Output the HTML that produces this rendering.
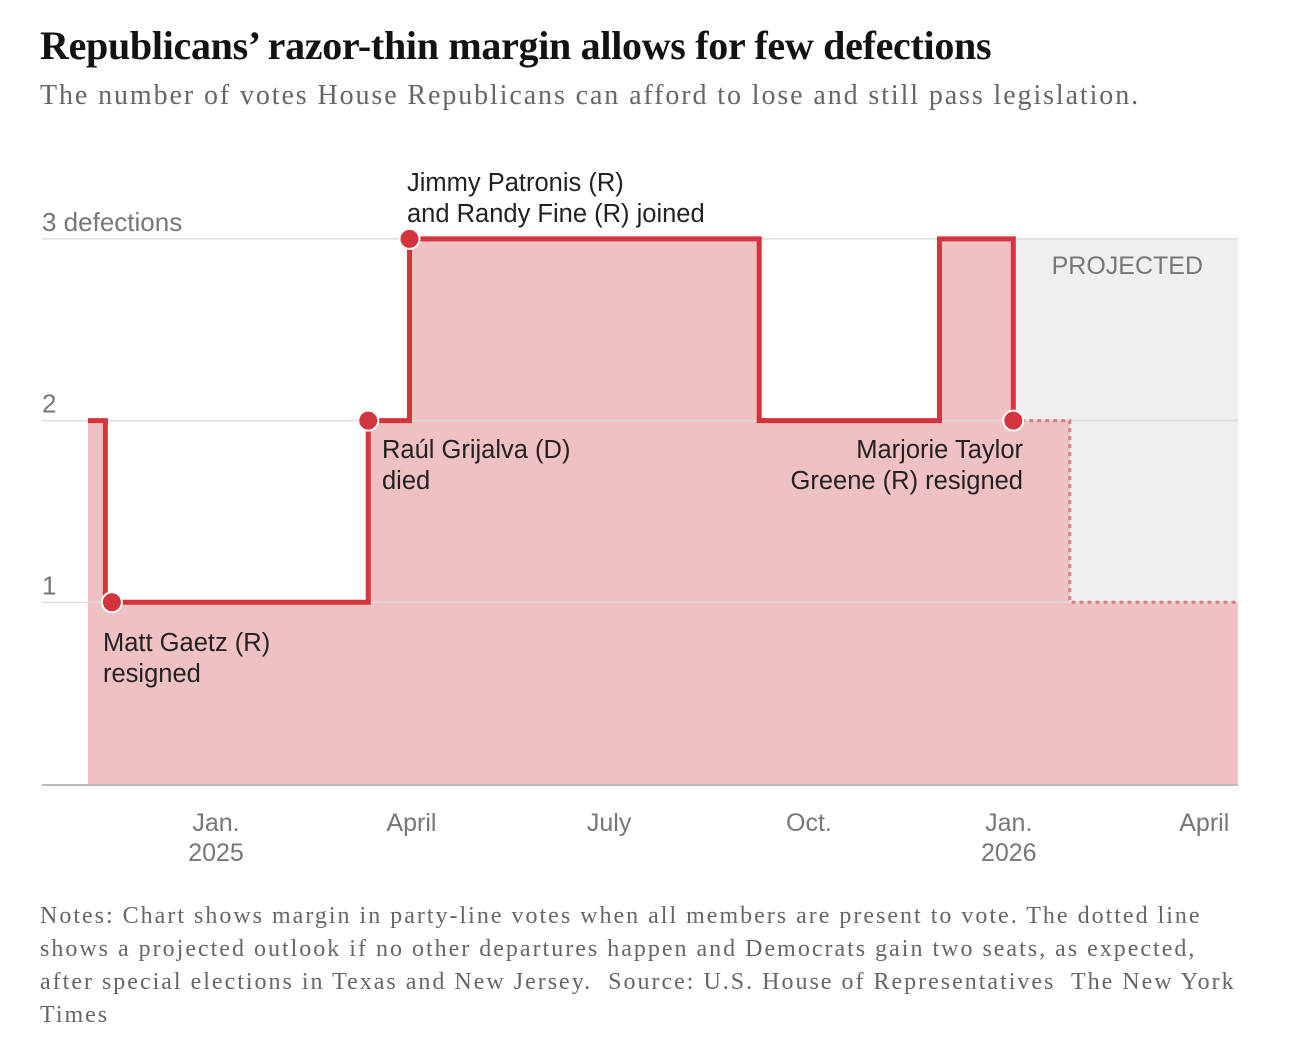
<!DOCTYPE html>
<html><head><meta charset="utf-8"><style>
body{margin:0;background:#fff;width:1316px;height:1058px;overflow:hidden;font-family:"Liberation Sans",sans-serif}
#title{position:absolute;left:40px;top:22px;font-family:"Liberation Serif",serif;font-weight:bold;font-size:40px;color:#121212;letter-spacing:-0.3px;white-space:nowrap}
#sub{position:absolute;left:40px;top:80px;font-family:"Liberation Serif",serif;font-size:28px;letter-spacing:1.9px;color:#666;white-space:nowrap}
#notes{position:absolute;left:40px;top:900px;font-family:"Liberation Serif",serif;font-size:24px;letter-spacing:2px;line-height:33px;color:#666;white-space:nowrap}
svg{position:absolute;left:0;top:0}
</style></head><body>
<div id="title">Republicans’ razor-thin margin allows for few defections</div>
<div id="sub">The number of votes House Republicans can afford to lose and still pass legislation.</div>
<svg id="chart" width="1316" height="900"></svg>
<div id="notes">Notes: Chart shows margin in party-line votes when all members are present to vote. The dotted line<br>shows a projected outlook if no other departures happen and Democrats gain two seats, as expected,<br>after special elections in Texas and New Jersey.&nbsp; Source: U.S. House of Representatives&nbsp; The New York<br>Times</div>
<script>
const stepDates=["2024-11-04","2024-11-12","2025-03-13","2025-04-01","2025-09-09","2025-12-01","2026-01-04"];
const stepValues=[2,1,2,3,2,3,2];
const projDates=["2026-01-04","2026-01-30","2026-04-20"];
const projValues=[2,1,1];
const dotDates=["2024-11-15","2025-03-13","2025-04-01","2026-01-04"];
const dotValues=[1,2,3,2];
const yTicks=[1,2,3];
const yTickLabels=["1","2","3 defections"];
const xTickDates=["2025-01-01","2025-04-01","2025-07-01","2025-10-01","2026-01-01","2026-04-01"];
const xTickLabels=[["Jan.","2025"],["April",""],["July",""],["Oct.",""],["Jan.","2026"],["April",""]];
const NS="http://www.w3.org/2000/svg";
const svg=document.getElementById('chart');
const d0=Date.parse("2025-01-01");
function x(d){return 214+(Date.parse(d)-d0)/864e5*2.172;}
function y(v){return 784-v*181.7;}
function el(t,a,p){const e=document.createElementNS(NS,t);for(const k in a)e.setAttribute(k,a[k]);(p||svg).appendChild(e);return e;}
const xEnd=1238;
const pb=el('rect',{x:x(projDates[0]),y:y(3),width:xEnd-x(projDates[0]),height:y(0)-y(3),fill:'#efefef'});


let pts=[];
const allD=stepDates.concat(projDates.slice(1)),allV=stepValues.concat(projValues.slice(1));
for(let i=0;i<allD.length;i++){const nx=i+1<allD.length?x(allD[i+1]):xEnd;pts.push([x(allD[i]),y(allV[i])],[Math.min(nx,xEnd),y(allV[i])]);}
let fp="M"+x(allD[0])+","+y(0)+pts.map(p=>"L"+p[0]+","+p[1]).join("")+"L"+xEnd+","+y(0)+"Z";
const fa=el('path',{d:fp,fill:'#efc1c3'});


yTicks.forEach((t,i)=>{
 const g=el('line',{x1:42,x2:xEnd,y1:y(t),y2:y(t),stroke:'#ddd','stroke-width':1.5});
 
 
 const tx=el('text',{x:42,y:y(t)-8,'font-size':26,fill:'#777'});tx.textContent=yTickLabels[i];
 
 
});
const ax=el('line',{x1:42,x2:xEnd,y1:y(0)+1,y2:y(0)+1,stroke:'#bbb','stroke-width':2});


xTickDates.forEach((d,i)=>{
 const tx=el('text',{x:x(d)+2,y:831,'font-size':25,fill:'#777','text-anchor':'middle'});tx.textContent=xTickLabels[i][0];
 
 
 if(xTickLabels[i][1]){const t2=el('text',{x:x(d)+2,y:861,'font-size':25,fill:'#777','text-anchor':'middle'});t2.textContent=xTickLabels[i][1];
 
 }
});
let sp="";
for(let i=0;i<stepDates.length;i++){const xi=x(stepDates[i]);sp+=(i?"L":"M")+xi+","+y(stepValues[i]);if(i+1<stepDates.length)sp+="L"+x(stepDates[i+1])+","+y(stepValues[i]);}
const sl=el('path',{d:sp,fill:'none',stroke:'#d3343d','stroke-width':5,'stroke-linejoin':'miter'});


let pp="";
for(let i=0;i<projDates.length;i++){pp+=(i?"L":"M")+Math.min(x(projDates[i]),xEnd)+","+y(projValues[i]);if(i+1<projDates.length)pp+="L"+Math.min(x(projDates[i+1]),xEnd)+","+y(projValues[i]);}
const pl=el('path',{d:pp,fill:'none',stroke:'#df7a7f','stroke-width':3,'stroke-dasharray':'4,4'});


dotDates.forEach((d,i)=>{const c=el('circle',{cx:x(d),cy:y(dotValues[i]),r:10,fill:'#d3343d',stroke:'#fff','stroke-width':2});
 
 });
const tp=el('text',{x:1203,y:274,'font-size':25,fill:'#777','text-anchor':'end'});tp.textContent="PROJECTED";


function ann(lines,ax,ay,anchor,name){lines.forEach((l,i)=>{const t=el('text',{x:ax,y:ay+i*31,'font-size':25.5,fill:'#222','text-anchor':anchor});t.textContent=l;
 
 });}
ann(["Matt Gaetz (R)","resigned"],103,651,'start','annotation-gaetz');
ann(["Raúl Grijalva (D)","died"],382,458,'start','annotation-grijalva');
ann(["Jimmy Patronis (R)","and Randy Fine (R) joined"],407,191,'start','annotation-patronis-fine');
ann(["Marjorie Taylor","Greene (R) resigned"],1023,458,'end','annotation-greene');
</script>
</body></html>
